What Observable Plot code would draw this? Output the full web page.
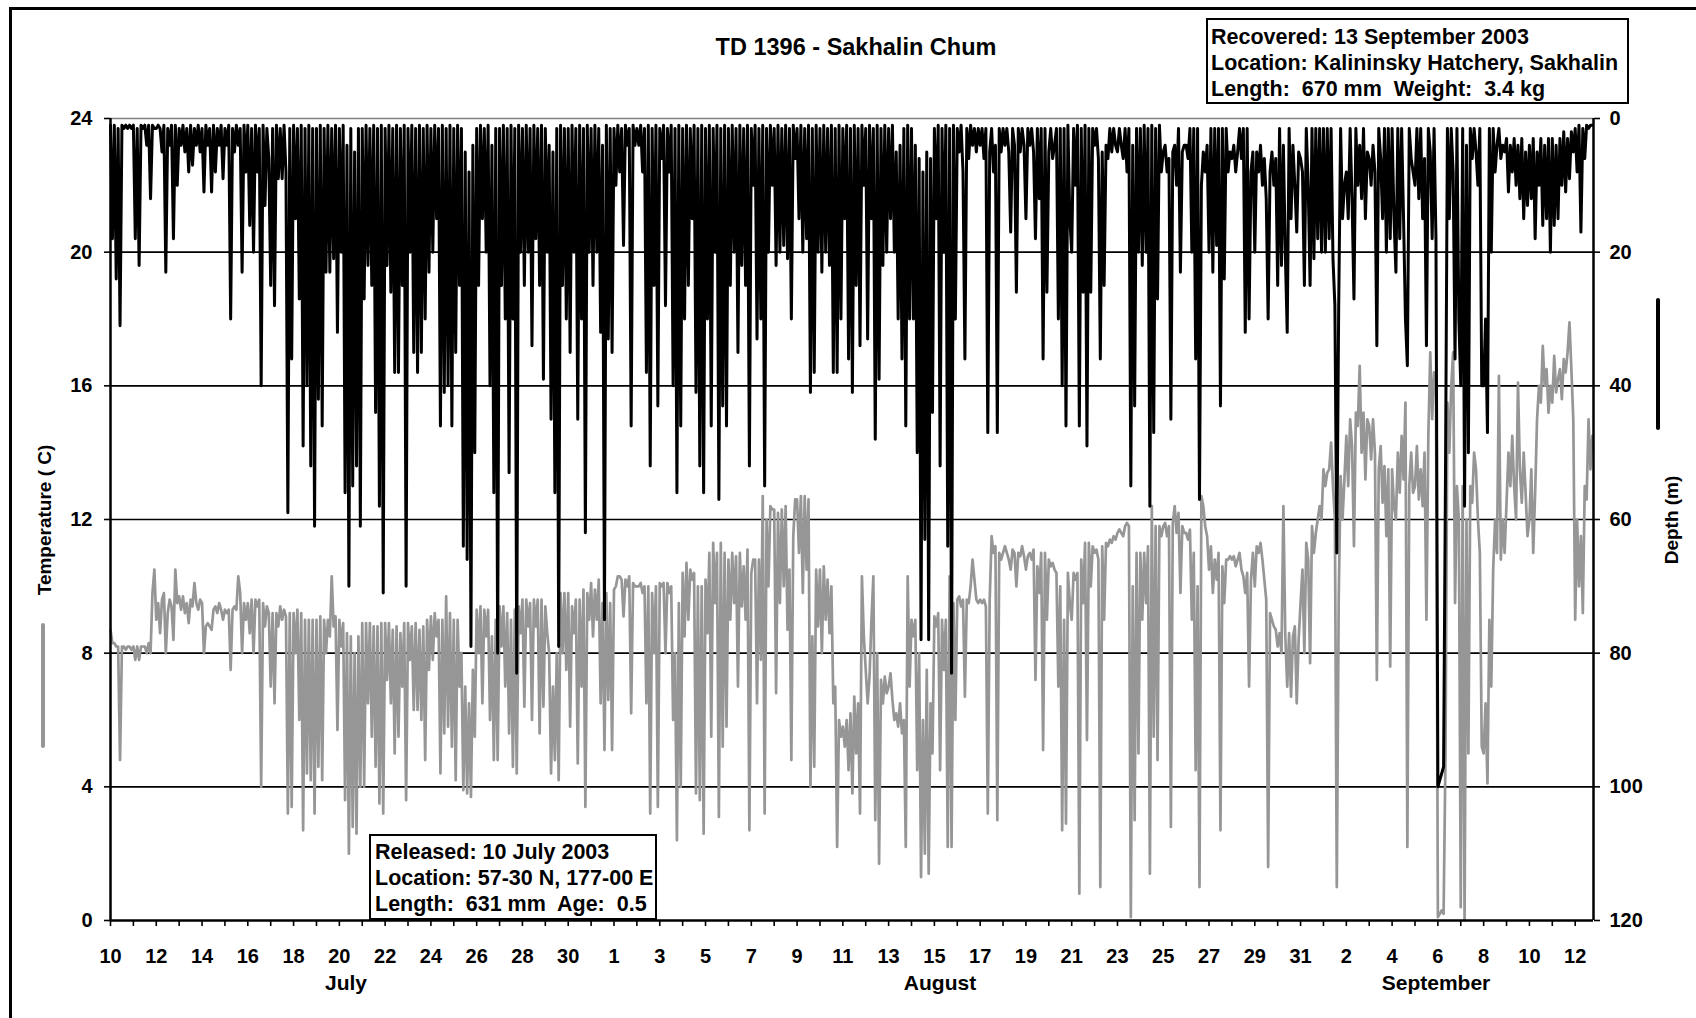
<!DOCTYPE html>
<html><head><meta charset="utf-8">
<script src="https://cdn.jsdelivr.net/npm/d3@7"></script>
<script src="https://cdn.jsdelivr.net/npm/@observablehq/plot@0.6"></script>
<style>
html,body{margin:0;padding:0;background:#fff;overflow:hidden;}
#wrap{position:relative;width:1696px;height:1018px;overflow:hidden;font-family:"Liberation Sans",Arial,sans-serif;font-weight:bold;color:#000;}
#chart{position:absolute;left:0;top:0;}
.frame{position:absolute;left:9px;top:7px;width:1800px;height:1200px;border-left:3px solid #000;border-top:3px solid #000;}
.title{position:absolute;top:36px;left:856px;transform:translateX(-50%);font-size:23.5px;line-height:23.5px;white-space:nowrap;}
.box{position:absolute;box-sizing:border-box;border:2px solid #000;background:#fff;font-size:21.5px;line-height:26px;white-space:pre;}
#rec{left:1206px;top:18px;width:423px;height:86px;padding:4px 0 0 3px;}
#rel{left:369px;top:834px;width:288px;height:86px;padding:2.5px 0 0 4px;}
.month{position:absolute;top:972px;transform:translateX(-50%);font-size:21px;line-height:21px;white-space:nowrap;}
.ylab{position:absolute;font-size:19px;line-height:19px;white-space:nowrap;transform:translate(-50%,-50%) rotate(-90deg);}
.key{position:absolute;width:4px;border-radius:2px;}
</style>
</head><body>
<div id="wrap">
  <div id="chart"></div>
  <div class="frame"></div>
  <div class="title">TD 1396 - Sakhalin Chum</div>
  <div class="box" id="rec">Recovered: 13 September 2003
Location: Kalininsky Hatchery, Sakhalin
Length:  670 mm  Weight:  3.4 kg</div>
  <div class="box" id="rel">Released: 10 July 2003
Location: 57-30 N, 177-00 E
Length:  631 mm  Age:  0.5</div>
  <div class="month" style="left:346px">July</div>
  <div class="month" style="left:940px">August</div>
  <div class="month" style="left:1436px">September</div>
  <div class="ylab" style="left:44px;top:520px">Temperature ( C)</div>
  <div class="ylab" style="left:1671px;top:520px">Depth (m)</div>
  <div class="key" style="left:41px;top:623px;height:125px;background:#969696"></div>
  <div class="key" style="left:1656px;top:298px;height:132px;background:#000"></div>
</div>
<script>
// ---- Data: 2-hourly samples (00,02,...,22 UTC), one row per day ----
// Depth (m), July 10-31
const depthJuly = [
 [1,18,1,24,1.5,31,1,1.5,1,1.5,1,1.5],
 [1,18,1.5,22,1,1.5,1,4,1,12,1,1.5],
 [1.5,1,1.5,5,1,23,1.5,4,1,18,1,10],
 [1.5,4,1,5,1.5,8,1,7,1.5,4,1,5],
 [1.5,11,1,4,1.5,11,1,8,1.5,4,1,9],
 [1.5,4,1,30,1.5,5,1,4,1.5,23,1,8],
 [1,16,1.5,20,1,8,1.5,40,1,13,1.5,6],
 [25,1.5,28,1,9,1.5,9,1,8,59,1.5,36],
 [1,15,1.5,27,1,49,1.5,40,1,52,1.5,61],
 [1.5,42,1,46,1.5,23,1,23,1.5,21,1,32],
 [1.5,20,1,56,4,70,1.5,55,5,52,1.5,61],
 [1.5,27,1,22,1.5,25,1,44,1.5,58,1,71],
 [1.5,22,1,26,1.5,38,1,38,1.5,25,1,70],
 [1.5,20,1,35,1.5,38,1,35,1.5,30,1,23],
 [1.5,20,1,15,1.5,46,1,41,1.5,40,1,46],
 [1.5,35,1,25,1.5,64,5,66,8,79,4,50],
 [1.5,25,1,15,1.5,20,1,40,4,56,1.5,80],
 [1.5,25,1,30,1.5,53,1,30,1.5,83,1,20],
 [1.5,25,1,20,1.5,34,1,18,1.5,25,1,39],
 [1.5,20,4,45,5,56,1.5,79,1,25,1.5,30],
 [1.5,35,1,20,1.5,45,1,30,1.5,62,1,20],
 [1.5,25,1,20,1.5,32,4,75,1,33,1.5,35]
];
// Depth (m), August 1-31
const depthAugust = [
 [1.5,10,1,8,1.5,19,1,4,1.5,46,1,4],
 [1.5,4,1,8,1.5,38,1,52,1.5,25,1,43],
 [1.5,6,1,28,1.5,8,1,40,1.5,56,1,46],
 [1.5,30,1,25,1.5,15,1,41,1.5,52,1,56],
 [1.5,30,1,46,1.5,20,1,57,1.5,43,1,46],
 [1.5,25,1,20,1.5,35,1,22,1.5,25,1,52],
 [1.5,10,1,33,1.5,30,1,55,1.5,20,1,10],
 [1.5,22,1,20,1.5,19,1,21,1.5,30,1,6],
 [1.5,15,1,20,1.5,18,1,41,1.5,38,1,20],
 [1.5,23,1,20,1.5,22,1,38,1.5,38,1,30],
 [1.5,15,1,36,1.5,41,1,25,1.5,34,1,10],
 [1.5,33,1,15,1.5,48,1,39,1.5,22,1,20],
 [1.5,15,1,20,5,30,4,36,1.5,46,1,30],
 [1.5,30,4,50,6,78,8,63,5,78,6,44],
 [1.5,15,1,52,1.5,20,1,64,1.5,83,1,30],
 [1.5,5,1,8,36,1.5,6,1,4,1.5,5,1.5],
 [4,1.5,6,1.5,47,5,1.5,8,4,47,1.5,5],
 [1.5,4,1.5,5,17,1.5,4,26,1.5,5,1.5,4],
 [15,1.5,4,1.5,5,18,1.5,12,1.5,36,1.5,26],
 [5,1.5,6,4,1.5,30,1.5,40,1.5,46,1,15],
 [20,1.5,10,1,46,1.5,26,1,49,1.5,26,1.5],
 [4,1.5,6,36,5,25,4,6,1.5,5,1.5,4],
 [5,1.5,4,6,1.5,8,1.5,55,4,43,1.5,20],
 [1.5,22,1,20,1.5,58,1,47,1.5,27,1,8],
 [5,4,8,6,45,5,4,10,1.5,23,5,4],
 [4,6,1.5,20,1.5,36,1.5,57,10,5,8,4],
 [20,1.5,23,1.5,19,1.5,43,1.5,24,1.5,8,5],
 [6,4,8,5,1.5,6,1.5,32,1.5,30,8,5],
 [20,5,8,4,10,6,12,30,8,5,10,6],
 [25,1.5,22,4,20,32,1.5,15,4,10,17,5],
 [6,8,25,1.5,10,25,1.5,21,1.5,18,1.5,20]
];
// Depth (m), September 1-12
const depthSeptember = [
 [1.5,20,1.5,18,1.5,21,28,65,28,1.5,15,10],
 [8,15,1.5,12,27,1.5,10,4,12,1.5,15,5],
 [6,10,4,8,34,1.5,6,15,1.5,20,1.5,18],
 [1.5,15,23,1.5,18,1.5,15,30,37,1.5,6,8],
 [10,1.5,12,1.5,15,6,34,1.5,5,18,1.5,18],
 [100,99,98,97,53,1.5,15,1.5,8,36,1.5,30],
 [40,1.5,58,4,50,1.5,6,1.5,5,10,1.5,40],
 [40,30,47,1.5,20,1.5,8,4,1.5,6,4,5],
 [3,11,4,8,3,10,4,12,3,15,5,13],
 [4,12,3,18,5,10,3,16,4,15,3,20],
 [3,16,4,15,3,10,2,11,3,9,2,5],
 [1.5,8,1,17,1.5,6,1,1.5,1,1]
];
// Temperature (C), July 10-31
const tempJuly = [
 [8.7,8.3,8.3,8.2,8.2,4.8,8.2,8.2,8.1,8.2,8.2,8.1],
 [8.2,7.8,8.2,7.8,8.2,8.2,8.2,8.0,8.3,8.0,9.8,10.5],
 [9.0,9.5,8.6,9.6,9.8,8.0,9.2,9.6,9.4,8.4,10.5,9.5],
 [9.7,9.3,9.7,9.2,9.5,8.9,9.6,9.4,10.1,9.5,9.3,9.6],
 [9.5,8.0,8.8,8.9,8.8,8.7,9.3,9.4,9.2,9.5,9.3,9.0],
 [9.3,9.2,9.3,7.5,9.3,9.4,9.3,10.3,9.8,8.0,9.5,9.0],
 [9.5,8.6,9.6,8.0,9.6,9.4,9.6,4.0,9.5,8.8,9.4,9.2],
 [7.0,9.2,6.5,9.2,8.8,9.4,9.0,9.3,9.1,3.2,9.2,3.4],
 [9.2,8.0,9.3,6.0,9.2,2.7,9.0,4.4,9.0,4.2,9.0,3.2],
 [9.0,4.6,9.1,4.2,9.0,8.0,9.0,8.5,10.3,8.8,9.1,5.7],
 [9.0,8.2,8.9,3.6,8.6,2.0,8.5,2.8,8.0,2.6,8.5,4.0],
 [8.9,4.0,8.9,6.5,8.9,5.5,8.8,4.6,8.8,3.5,8.9,3.2],
 [8.9,7.2,8.9,6.5,8.7,5.0,8.8,5.5,8.6,7.0,8.9,3.6],
 [8.9,7.8,8.8,6.3,8.9,6.3,8.7,6.0,8.8,4.8,9.0,7.5],
 [9.1,7.8,9.2,8.5,9.0,4.4,9.0,5.6,9.7,5.8,9.2,5.2],
 [9.0,4.2,9.0,7.0,8.0,3.9,7.0,3.8,6.5,3.7,7.5,5.5],
 [9.3,8.0,9.4,6.5,9.3,8.5,9.3,6.0,8.5,4.8,9.0,4.8],
 [9.4,8.2,9.4,7.0,9.2,5.6,9.0,4.6,9.3,4.4,9.4,8.6],
 [9.6,6.4,9.6,8.8,9.5,6.0,9.6,8.8,9.6,5.6,9.6,6.4],
 [9.4,8.6,8.0,4.4,7.0,4.8,8.0,4.2,9.8,8.0,9.8,7.5],
 [9.8,5.8,9.4,8.6,9.6,4.7,9.6,7.0,9.9,3.4,9.8,9.0],
 [10.1,8.5,9.9,9.0,10.2,6.5,9.5,5.1,9.8,6.6,9.5,5.1]
];
// Temperature (C), August 1-31
const tempAugust = [
 [9.9,10.0,10.3,10.3,10.2,9.1,10.2,10.0,10.3,6.2,10.1,10.0],
 [10.0,10.0,10.1,9.8,10.0,6.5,10.0,3.2,9.8,8.0,10.0,3.4],
 [10.1,10.0,10.1,8.0,10.1,9.8,10.0,6.0,8.0,2.4,9.5,4.0],
 [10.4,8.5,10.7,9.0,10.5,10.2,10.4,3.8,10.0,3.6,10.0,2.6],
 [10.2,8.6,11.0,5.5,11.3,9.5,11.0,3.1,11.3,5.2,11.0,5.8],
 [10.8,9.0,11.0,9.5,10.9,7.0,11.0,9.4,10.6,9.0,11.1,2.7],
 [10.4,10.8,10.8,6.5,10.8,7.8,12.7,3.2,12.0,10.0,12.4,12.3],
 [12.3,6.8,12.2,9.5,12.3,10.0,12.4,8.7,10.5,4.8,11.5,12.6],
 [12.6,11.0,12.7,9.8,12.7,10.5,12.6,4.0,8.5,4.6,10.5,8.8],
 [10.5,8.0,10.6,9.0,10.2,8.6,10.0,6.5,7.0,2.2,6.0,5.5],
 [5.8,5.2,6.0,4.5,6.2,3.8,6.7,5.0,6.5,3.2,10.3,8.5],
 [7.5,6.5,7.3,9.0,10.3,3.0,8.0,1.7,7.2,6.5,7.3,6.8],
 [7.0,7.4,6.6,6.0,6.2,5.8,6.5,5.6,6.0,2.2,10.3,7.0],
 [9.0,8.5,9.0,4.5,8.0,1.3,6.0,2.0,7.5,1.4,6.5,5.0],
 [9.1,8.8,9.2,4.5,9.0,7.5,9.0,2.2,10.3,2.2,9.5,6.0],
 [9.6,9.7,9.4,9.6,6.7,9.6,9.5,10.0,10.8,10.2,9.6,9.5],
 [9.6,9.5,9.6,9.4,3.2,9.6,11.5,11.0,11.2,3.0,11.0,10.8],
 [11.0,11.2,11.0,10.8,10.5,11.1,11.0,10.0,11.0,10.9,11.2,10.9],
 [10.5,10.9,11.0,10.8,11.1,7.2,10.6,9.8,11.0,5.1,11.0,9.0],
 [10.8,10.6,10.7,10.5,10.4,7.0,10.0,2.7,9.0,2.9,10.4,9.5],
 [9.0,10.4,10.2,10.4,0.8,10.8,9.5,11.3,5.4,11.3,10.0,11.2],
 [11.0,11.1,10.8,1.0,11.2,9.0,11.3,11.2,11.4,11.3,11.5,11.4],
 [11.6,11.7,11.6,11.5,11.8,11.9,11.8,0.1,10.0,3.0,11.0,5.0],
 [11.0,9.0,11.0,9.5,11.2,1.4,12.4,5.5,11.8,4.8,11.8,11.5],
 [11.8,11.9,11.5,11.8,2.8,11.9,12.4,11.6,12.2,9.8,11.8,11.6],
 [11.6,11.4,11.7,9.0,11.0,4.5,10.0,1.0,12.7,12.4,11.8,11.5],
 [10.5,11.2,9.8,10.8,10.2,11.0,2.7,10.6,9.5,10.8,10.8,10.9],
 [10.8,10.9,10.6,10.8,11.0,10.5,10.3,9.8,10.4,7.0,10.2,11.0],
 [10.0,11.2,11.0,11.3,10.8,10.2,9.6,1.6,9.2,9.0,8.8,8.7],
 [8.2,8.6,8.0,12.4,8.5,7.0,8.6,6.7,8.5,8.8,6.5,8.4],
 [9.5,10.5,8.0,11.3,10.8,7.7,11.8,11.0,11.6,12.0,12.4,12.0]
];
// Temperature (C), September 1-12
const tempSeptember = [
 [13.5,13.0,13.4,13.5,14.3,13.0,12.0,1.0,9.6,13.3,12.0,13.2],
 [14.5,13.0,15.0,14.2,11.2,15.2,14.8,16.6,14.0,15.2,13.2,15.0],
 [14.8,13.8,15.0,14.0,7.2,13.5,14.2,12.5,13.6,11.5,13.5,7.6],
 [13.5,12.4,12.0,14.0,12.8,14.5,13.2,15.5,2.2,13.0,14.0,12.8],
 [13.0,14.2,12.6,13.5,12.4,14.0,9.0,14.5,17.0,15.0,16.4,16.2],
 [0.1,0.2,0.3,0.2,5.0,15.5,14.0,16.0,17.0,9.5,13.0,12.0],
 [0.4,13.0,0.0,12.0,5.0,13.0,12.5,14.0,13.5,12.0,11.0,5.2],
 [5.0,6.5,4.1,9.0,7.0,10.5,12.0,11.0,16.3,10.8,12.0,11.0],
 [12.5,14.0,13.0,14.5,13.0,12.0,16.1,13.5,12.5,14.0,12.8,11.5],
 [12.0,13.5,11.0,12.8,15.0,16.0,15.5,17.2,16.0,16.5,15.2,16.0],
 [15.5,16.9,15.8,16.2,16.5,15.6,16.8,16.4,17.0,17.9,16.5,15.0],
 [9.0,12.0,10.0,11.5,9.2,13.0,12.6,15.0,13.5,14.5]
];
// Axis ticks
const tempTicks = [0, 4, 8, 12, 16, 20, 24];
const depthTicks = [0, 20, 40, 60, 80, 100, 120];
const monthStarts = [[6, 10], [7, 1], [8, 1]]; // [month index, first day] of each block

// ---- Build rows ----
function toRows(blocks) {
  const rows = [];
  blocks.forEach((block, b) => {
    const [m, d0] = monthStarts[b];
    block.forEach((day, k) => day.forEach((v, j) => {
      rows.push({date: new Date(Date.UTC(2003, m, d0 + k, 2 * j)), value: v});
    }));
  });
  return rows;
}
const depthRows = toRows([depthJuly, depthAugust, depthSeptember]);
const tempRows = toRows([tempJuly, tempAugust, tempSeptember]);

const start = new Date(Date.UTC(2003, 6, 10));
const end = new Date(Date.UTC(2003, 8, 12, 19, 12));
const xTickDates = d3.utcDay.range(start, new Date(Date.UTC(2003, 8, 13)));
const labelMap = new Map(xTickDates.filter((d, i) => i % 2 === 0).map(d => [+d, String(d.getUTCDate())]));

const chart = Plot.plot({
  width: 1696, height: 1018,
  marginLeft: 110, marginRight: 103, marginTop: 118, marginBottom: 98,
  style: {fontFamily: "'Liberation Sans', Arial, sans-serif", fontSize: "20px", fontWeight: "bold", color: "#000", background: "none", overflow: "visible"},
  x: {type: "utc", domain: [start, end]},
  y: {domain: [0, 24]},
  marks: [
    Plot.ruleY(tempTicks.filter(t => t > 0 && t < 24), {stroke: "#000", strokeWidth: 1.6}),
    Plot.ruleY([24], {stroke: "#808080", strokeWidth: 1.4}),
    Plot.line(tempRows, {x: "date", y: "value", stroke: "#969696", strokeWidth: 2.7}),
    Plot.line(depthRows, {x: "date", y: d => 24 - d.value / 5, stroke: "#000", strokeWidth: 3}),
    Plot.ruleX([start, end], {stroke: "#000", strokeWidth: 2.5}),
    Plot.ruleY([0], {stroke: "#000", strokeWidth: 2.5}),
    Plot.axisY(tempTicks, {anchor: "left", tickSize: 6, tickPadding: 12, strokeWidth: 1.6, label: null}),
    Plot.axisY(depthTicks.map(m => 24 - m / 5), {anchor: "right", tickSize: 6, tickPadding: 10, strokeWidth: 1.6, label: null,
      tickFormat: y => String(Math.round((24 - y) * 5))}),
    Plot.axisX(xTickDates, {anchor: "bottom", tickSize: 6, tickPadding: 22, strokeWidth: 1.6, label: null,
      tickFormat: d => labelMap.get(+d) ?? ""})
  ]
});
document.getElementById("chart").appendChild(chart);
</script>
</body></html>
